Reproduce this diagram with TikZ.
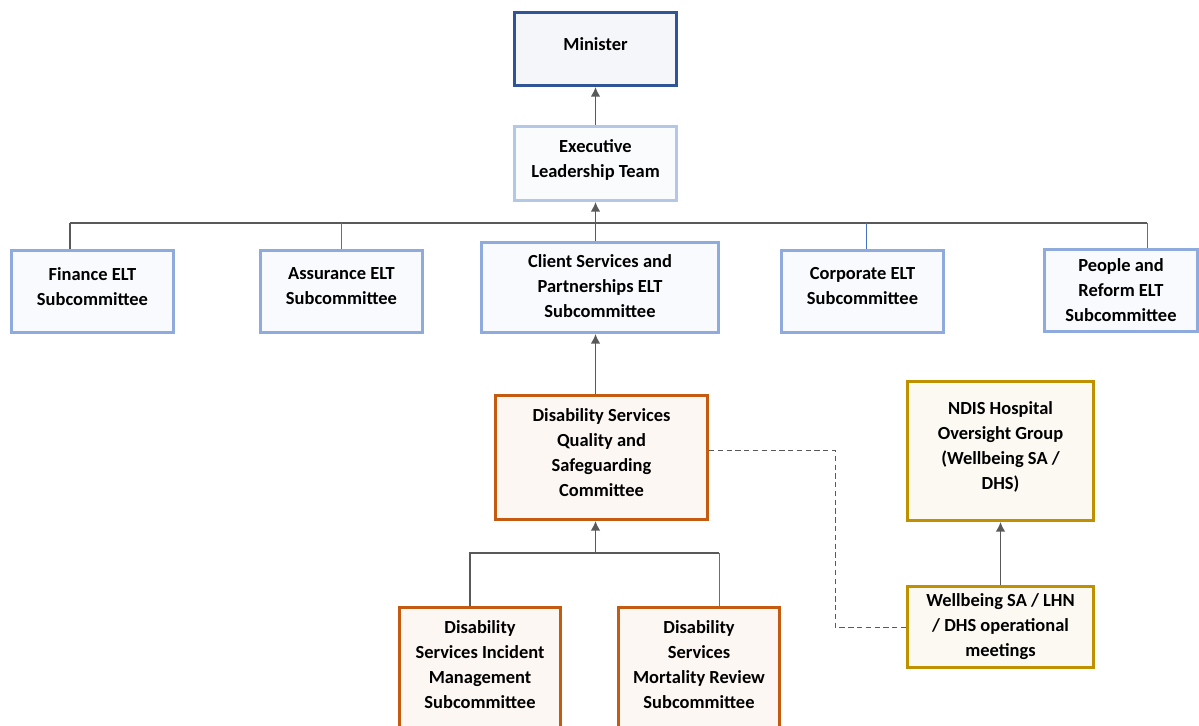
\documentclass[tikz,border=0pt]{standalone}
\usepackage{fontspec}
\setmainfont{Carlito}
\usetikzlibrary{arrows.meta}
\newcommand\pxu{0.02cm}
\newcommand\boxlift{6pt}
\definecolor{minline}{HTML}{2F5597}
\definecolor{eltline}{HTML}{B4C7E7}
\definecolor{subline}{HTML}{8FAADC}
\definecolor{dsline}{HTML}{C55A11}
\definecolor{ndisline}{HTML}{BF9000}
\definecolor{conline}{HTML}{595959}
\definecolor{dropline}{HTML}{4472C4}
\tikzset{
  lift/.store in=\boxlift,
  box/.style={draw, line width=3*\pxu, align=center, inner sep=2pt,
    font=\fontsize{10.5pt}{14.2pt}\selectfont\bfseries, text=black,
    execute at end node={\rule[-\boxlift]{0pt}{\boxlift}}},
  minbox/.style={box, draw=minline, fill=minline!5},
  eltbox/.style={box, draw=eltline, fill=eltline!8},
  subbox/.style={box, draw=subline, fill=subline!6},
  dsbox/.style={box, draw=dsline, fill=dsline!5},
  ndisbox/.style={box, draw=ndisline, fill=ndisline!5},
  con/.style={draw=conline, line width=1.5*\pxu},
  arr/.style={con, -{Latex[length=5.5pt,width=5.5pt]}}
}
\begin{document}
\begin{tikzpicture}[x=\pxu, y=-\pxu]
  \useasboundingbox (0,0) rectangle (1199,725);
  \draw
    (595.5,49) node[minbox, minimum width=162*\pxu, minimum height=73*\pxu] (min) {Minister}
    (595.5,163.5) node[eltbox, minimum width=162*\pxu, minimum height=74*\pxu] (elt) {Executive\\Leadership Team}
    (92.5,291.5) node[subbox, minimum width=162*\pxu, minimum height=82*\pxu] (fin) {Finance ELT\\Subcommittee}
    (341.5,291.5) node[subbox, minimum width=162*\pxu, minimum height=82*\pxu] (ass) {Assurance ELT\\Subcommittee}
    (600,287.5) node[subbox, lift=2pt, minimum width=237*\pxu, minimum height=90*\pxu] (cli) {Client Services and\\Partnerships ELT\\Subcommittee}
    (862.5,291.5) node[subbox, minimum width=162*\pxu, minimum height=82*\pxu] (cor) {Corporate ELT\\Subcommittee}
    (1121,290.5) node[subbox, lift=0pt, minimum width=153*\pxu, minimum height=82*\pxu] (peo) {People and\\Reform ELT\\Subcommittee}
    (601.5,457.5) node[dsbox, minimum width=212*\pxu, minimum height=124*\pxu] (dsq) {Disability Services\\Quality and\\Safeguarding\\Committee}
    (480,670) node[dsbox, minimum width=161*\pxu, minimum height=126*\pxu] (inc) {Disability\\Services Incident\\Management\\Subcommittee}
    (699,670) node[dsbox, minimum width=161*\pxu, minimum height=126*\pxu] (mor) {Disability\\Services\\Mortality Review\\Subcommittee}
    (1000.5,451) node[ndisbox, minimum width=186*\pxu, minimum height=139*\pxu] (ndis) {NDIS Hospital\\Oversight Group\\(Wellbeing SA /\\DHS)}
    (1000.5,627) node[ndisbox, lift=0pt, minimum width=186*\pxu, minimum height=81*\pxu] (wel) {Wellbeing SA / LHN\\/ DHS operational\\meetings};
  \coordinate (bus) at (595.5,223);
  \coordinate (busL) at (70,223);
  \coordinate (busR) at (1147,223);
  \coordinate (bus2) at (595.5,553);
  \coordinate (busA) at (470,553);
  \coordinate (busB) at (719,553);
  \coordinate (dj) at (835,450);
  \begin{scope}[con]
    \draw[arr] (elt) to (min);
    \draw[arr] (bus |- cli.north) to (elt);
    \draw (busL) to (busR);
    \draw (busL) to (busL |- fin.north);
    \draw[dropline, line width=1*\pxu] (ass.north |- bus) to (ass.north);
    \draw[dropline, line width=1*\pxu] (866,223) to (866,249);
    \draw[dropline, line width=1*\pxu] (busR) to (busR |- peo.north);
    \draw[arr] (bus |- dsq.north) to (bus |- cli.south);
    \draw[arr] (bus2) to (bus2 |- dsq.south);
    \draw (busA |- inc.north) to (busA) to (busB);
    \draw[dropline, line width=1*\pxu] (busB) to (busB |- mor.north);
    \draw[arr] (wel) to (ndis);
    \draw[dashed, line width=1*\pxu, dash pattern=on 3pt off 2pt] (dsq.east |- dj) to (dj) |- (wel.west);
  \end{scope}
\end{tikzpicture}
\end{document}
